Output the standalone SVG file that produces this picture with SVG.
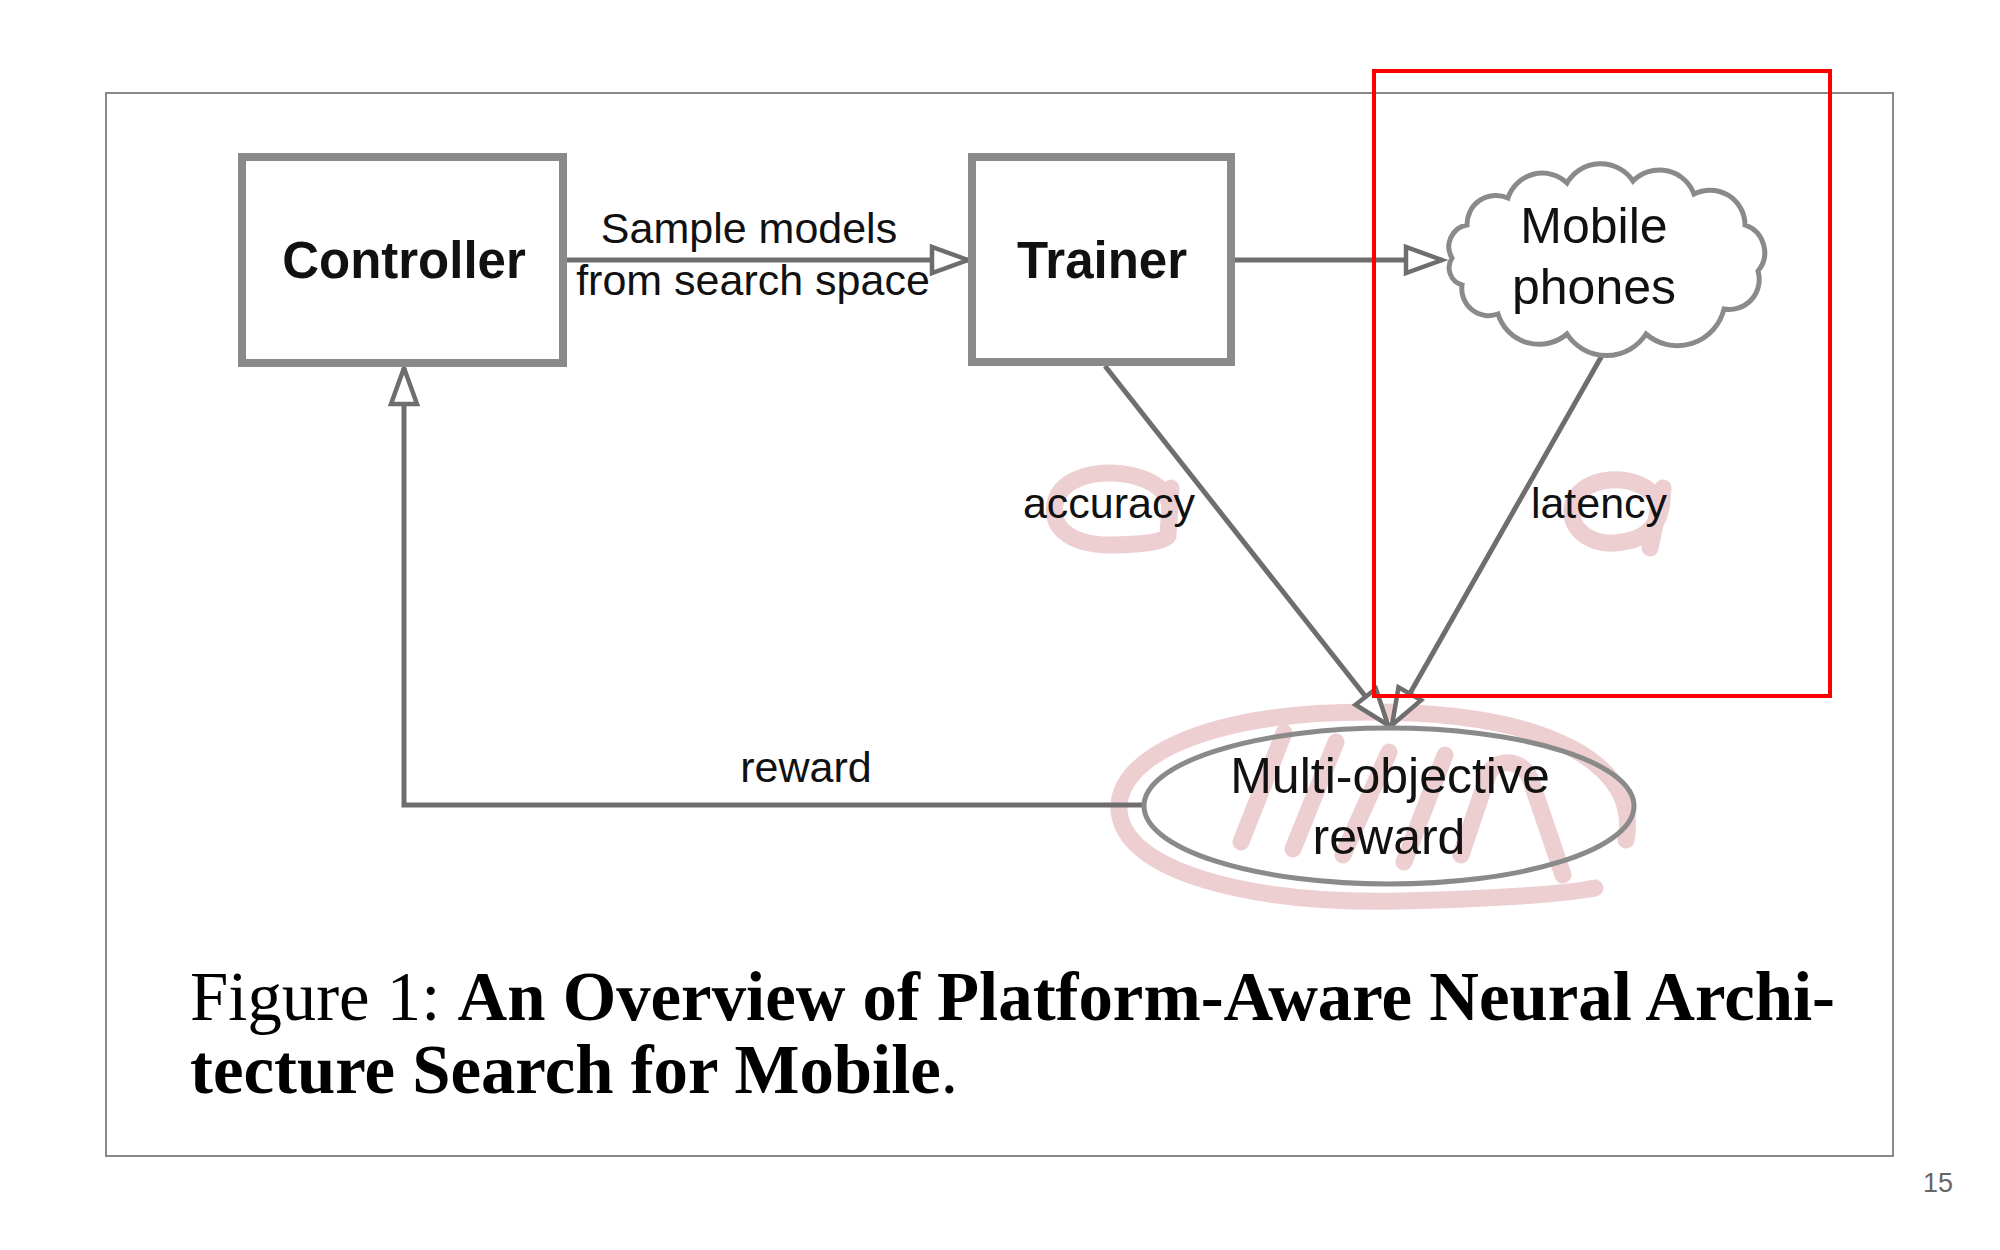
<svg xmlns="http://www.w3.org/2000/svg" width="2000" height="1250" viewBox="0 0 2000 1250">
<style>
.box{fill:#fff;stroke:#8a8a8a;stroke-width:8}
.shape{fill:none;stroke:#8a8a8a;stroke-width:5}
.lbl{font-family:"Liberation Sans",Arial,sans-serif;fill:#111;text-anchor:middle}
.bold{font-weight:bold;font-size:51px}
.node{font-size:50px}
.edge{font-size:43px}
.conn{fill:none;stroke:#6e6e6e;stroke-width:5}
.pink{fill:none;stroke:#edcfd2;stroke-width:17;stroke-linecap:round;stroke-linejoin:round}
.cap{font-family:"Liberation Serif","Times New Roman",serif;font-size:68.8px;fill:#000}
</style>
<defs>
<marker id="arr" markerUnits="userSpaceOnUse" viewBox="-45 -20 50 40" markerWidth="50" markerHeight="40" refX="0" refY="0" orient="auto" overflow="visible">
<path d="M0,0 L-36,-13 L-36,13 Z" fill="#fff" stroke="#6e6e6e" stroke-width="4.5" stroke-linejoin="miter"/>
</marker>
</defs>
<rect x="0" y="0" width="2000" height="1250" fill="#fff"/>
<rect x="106" y="93" width="1787" height="1063" fill="none" stroke="#888" stroke-width="2"/>

<g id="annotations">
<path class="pink" d="M1168,500 C1155,466 1068,462 1056,500 C1047,530 1075,545 1110,545 C1140,545 1165,542 1168,536 L1171,488"/>
<path class="pink" d="M1660,505 C1650,476 1595,470 1576,497 C1562,522 1585,545 1615,543 C1645,541 1660,527 1662,500 L1663,488 L1650,548"/>
<path class="pink" d="M1626,840 C1640,770 1560,712 1370,712 C1200,712 1116,760 1119,810 C1123,872 1250,904 1400,901 C1480,899 1560,895 1595,888"/>
<path class="pink" d="M1284,733 L1241,842 M1336,742 L1293,849 M1389,752 L1343,855 M1445,755 L1404,862 M1461,855 L1489,772 C1500,758 1522,760 1530,778 L1563,875"/>
</g>

<g id="connectors">
<path class="conn" d="M565,260 L968,260" marker-end="url(#arr)"/>
<path class="conn" d="M1235,260 L1442,260" marker-end="url(#arr)"/>
<path class="conn" d="M1105,366 L1388,725" marker-end="url(#arr)"/>
<path class="conn" d="M1604,352 L1392,725" marker-end="url(#arr)"/>
<path class="conn" d="M1144,805 L404,805 L404,368" marker-end="url(#arr)"/>
<text class="lbl edge" x="749" y="243">Sample models</text>
<text class="lbl edge" x="753" y="295">from search space</text>
<text class="lbl edge" x="1109" y="518">accuracy</text>
<text class="lbl edge" x="1599" y="518">latency</text>
<text class="lbl edge" x="806" y="782">reward</text>
</g>

<g id="controller">
<rect class="box" x="242" y="157" width="321" height="206"/>
<text class="lbl bold" x="404" y="278">Controller</text>
</g>

<g id="trainer">
<rect class="box" x="972" y="157" width="259" height="205"/>
<text class="lbl bold" x="1102" y="278">Trainer</text>
</g>

<g id="mobile">
<path class="shape" style="fill:#fff" d="M1452,258 A22,22 0 0 1 1467,225 A29,29 0 0 1 1508,198 A36,36 0 0 1 1567,183 A39,39 0 0 1 1633,181 A37,37 0 0 1 1694,194 A35,35 0 0 1 1745,225 A29,29 0 0 1 1758,271 A30,30 0 0 1 1724,309 A48,48 0 0 1 1646,334 A47,47 0 0 1 1567,334 A43,43 0 0 1 1498,314 A27,27 0 0 1 1462,285 A18,18 0 0 1 1452,258 Z"/>
<text class="lbl node" x="1594" y="243">Mobile</text>
<text class="lbl node" x="1594" y="304">phones</text>
</g>

<g id="reward">
<ellipse class="shape" cx="1389" cy="806" rx="245" ry="78"/>
<text class="lbl node" x="1390" y="793">Multi-objective</text>
<text class="lbl node" x="1389" y="854">reward</text>
</g>

<g id="caption">
<text class="cap" x="190" y="1020">Figure 1: <tspan font-weight="bold">An Overview of Platform-Aware Neural Archi-</tspan></text>
<text class="cap" x="190" y="1093"><tspan font-weight="bold">tecture Search for Mobile</tspan>.</text>
</g>

<rect id="highlight" x="1374" y="71" width="456" height="625" fill="none" stroke="#ff0000" stroke-width="4"/>
<text x="1938" y="1192" font-family="'Liberation Sans',Arial,sans-serif" font-size="27" fill="#666" text-anchor="middle">15</text>
</svg>
